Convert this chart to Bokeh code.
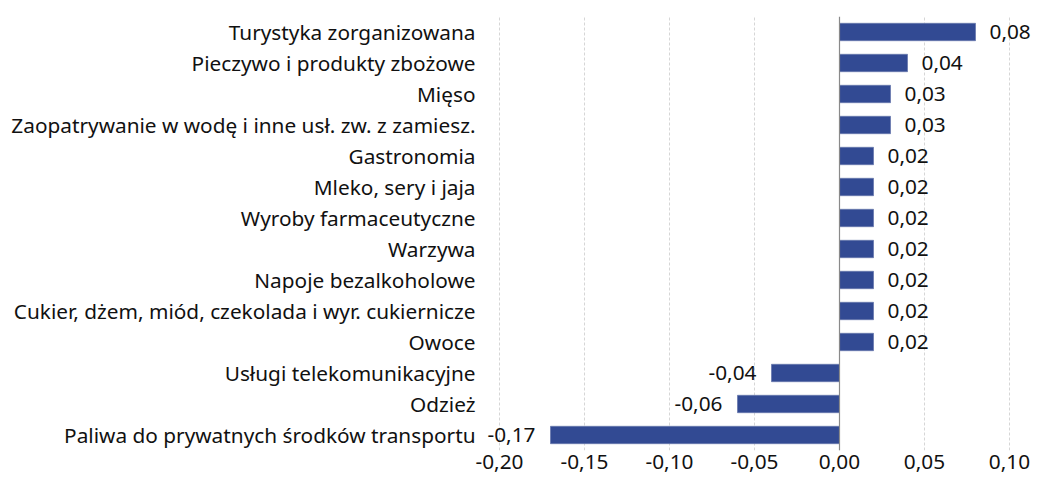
from bokeh.plotting import figure
from bokeh.models import (ColumnDataSource, FactorRange, Range1d, FixedTicker,
                          CustomJSTickFormatter, LabelSet, Span)
from bokeh.core.properties import value
from bokeh.embed import file_html
from bokeh.resources import INLINE

categories = [
    "Turystyka zorganizowana",
    "Pieczywo i produkty zbożowe",
    "Mięso",
    "Zaopatrywanie w wodę i inne usł. zw. z zamiesz.",
    "Gastronomia",
    "Mleko, sery i jaja",
    "Wyroby farmaceutyczne",
    "Warzywa",
    "Napoje bezalkoholowe",
    "Cukier, dżem, miód, czekolada i wyr. cukiernicze",
    "Owoce",
    "Usługi telekomunikacyjne",
    "Odzież",
    "Paliwa do prywatnych środków transportu",
]
values = [0.08, 0.04, 0.03, 0.03, 0.02, 0.02, 0.02, 0.02, 0.02, 0.02, 0.02,
          -0.04, -0.06, -0.17]
x_ticks = [-0.20, -0.15, -0.10, -0.05, 0.00, 0.05, 0.10]

FONT = "Noto Sans"
FS = "20.8px"
BAR = "#324A93"
TXT = "#111111"

labels = [f"{v:.2f}".replace(".", ",") for v in values]
pos = ColumnDataSource(dict(y=[c for c, v in zip(categories, values) if v >= 0],
                            x=[v for v in values if v >= 0],
                            t=[l for l, v in zip(labels, values) if v >= 0]))
neg = ColumnDataSource(dict(y=[c for c, v in zip(categories, values) if v < 0],
                            x=[v for v in values if v < 0],
                            t=[l for l, v in zip(labels, values) if v < 0]))
src = ColumnDataSource(dict(y=categories, x=values))

# frame spans 480 .. 1035 px; -0.20 sits at 499 px, 1700 px per unit
SCALE = 1700.0
x_start = -0.20 - 19 / SCALE
x_end = x_start + (1035 - 480) / SCALE

p = figure(width=1035, height=484, output_backend="svg", toolbar_location=None,
           y_range=FactorRange(factors=list(reversed(categories)), range_padding=0),
           x_range=Range1d(x_start, x_end),
           min_border_left=480, min_border_right=0, min_border_top=16,
           min_border_bottom=34)
p.outline_line_color = None
p.background_fill_color = "white"
p.border_fill_color = "white"

p.hbar(y="y", right="x", left=0, height=0.56, source=src,
       fill_color=BAR, line_color="#6878ad", line_width=0.8)

p.add_layout(Span(location=0, dimension="height", line_color="#8a8a8a",
                  line_width=1.2))

p.add_layout(LabelSet(x="x", y="y", text="t", source=pos, x_offset=14,
                      text_align="left", text_baseline="middle",
                      text_font=value(FONT), text_font_size=value(FS),
                      text_color=TXT))
p.add_layout(LabelSet(x="x", y="y", text="t", source=neg, x_offset=-15,
                      text_align="right", text_baseline="middle",
                      text_font=value(FONT), text_font_size=value(FS),
                      text_color=TXT))

p.xaxis.ticker = FixedTicker(ticks=x_ticks)
p.xaxis.formatter = CustomJSTickFormatter(
    code="return tick.toFixed(2).replace('.', ',');")
p.xaxis.axis_line_color = None
p.xaxis.major_tick_line_color = None
p.xaxis.minor_tick_line_color = None
p.xaxis.major_tick_out = 0
p.xaxis.major_tick_in = 0
p.xaxis.major_label_standoff = 4
p.xaxis.major_label_text_font = FONT
p.xaxis.major_label_text_font_size = FS
p.xaxis.major_label_text_color = TXT

p.yaxis.axis_line_color = None
p.yaxis.major_tick_line_color = None
p.yaxis.minor_tick_line_color = None
p.yaxis.major_tick_out = 0
p.yaxis.major_tick_in = 0
p.yaxis.major_label_standoff = 5
p.yaxis.major_label_text_font = FONT
p.yaxis.major_label_text_font_size = FS
p.yaxis.major_label_text_color = TXT

p.xgrid.grid_line_color = "#d6d6d6"
p.xgrid.grid_line_dash = "3 2"
p.xgrid.grid_line_width = 1
p.ygrid.grid_line_color = None

open("out.html", "w").write(file_html(p, INLINE))
